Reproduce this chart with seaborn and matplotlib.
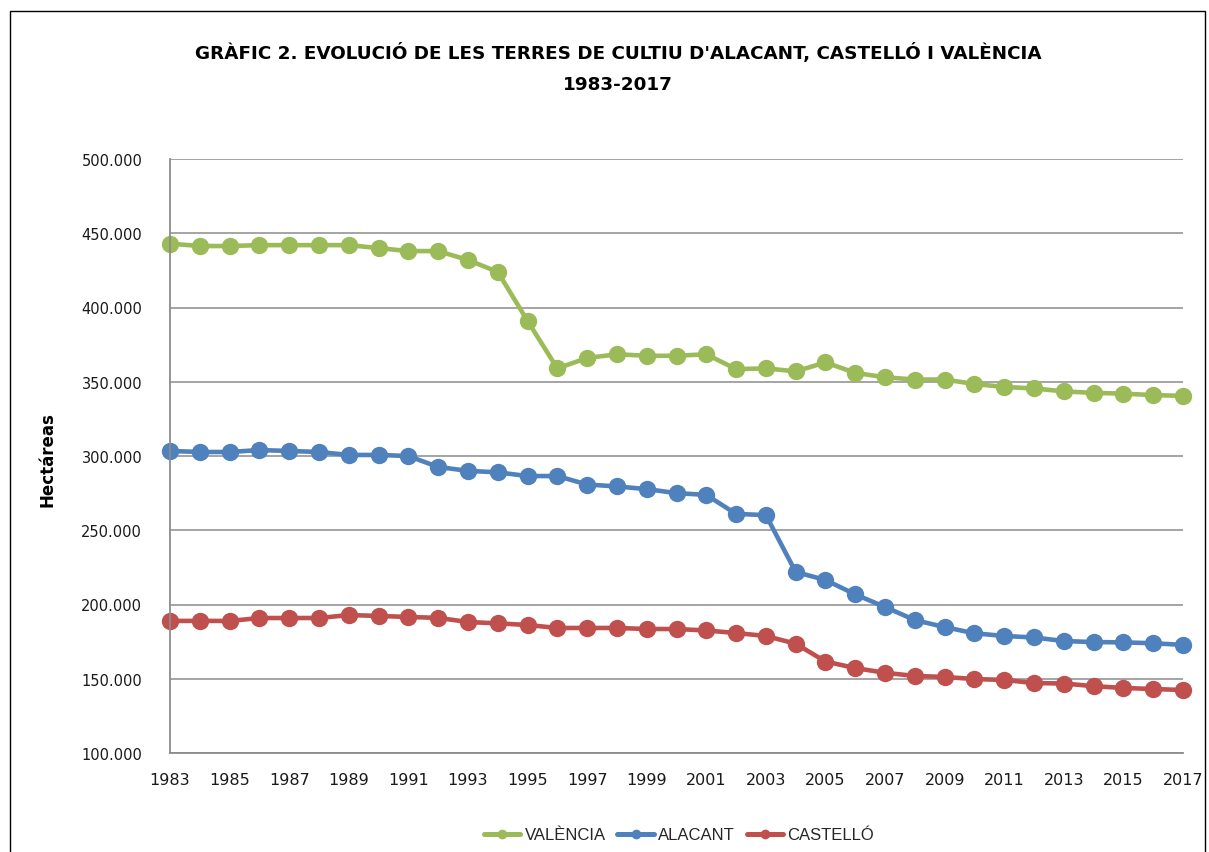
import matplotlib
matplotlib.use("Agg")
import matplotlib.pyplot as plt
import matplotlib.ticker as mticker
from matplotlib.patches import Rectangle
import seaborn as sns
import pandas as pd

years = list(range(1983, 2018))

valencia = [443000, 441400, 441400, 442000, 442000, 442000, 442000, 440000, 438000, 438000,
            432000, 424000, 391000, 359000, 366000, 368500, 367500, 367500, 368500, 358500,
            359000, 357000, 363000, 356000, 353000, 351500, 351500, 348500, 346500, 345500,
            343500, 342500, 342000, 341000, 340500]
alacant = [303400, 302700, 302700, 304000, 303400, 302700, 300700, 300700, 300000, 292600,
           290000, 289000, 286500, 286500, 280800, 279500, 277700, 275000, 273800, 261000,
           260200, 221900, 216500, 206800, 198300, 189500, 184800, 180600, 178800, 177800,
           175400, 174700, 174500, 173900, 172800]
castello = [188900, 189000, 188900, 190900, 190900, 190900, 192900, 192300, 191600, 191000,
            188200, 187300, 186200, 184200, 184200, 184200, 183500, 183500, 182500, 180800,
            178800, 173600, 161600, 157200, 154000, 151900, 151200, 149800, 149200, 147100,
            146800, 145000, 143800, 143100, 142400]

series_names = ["VALÈNCIA", "ALACANT", "CASTELLÓ"]
colors = ["#9BBB59", "#4F81BD", "#C0504D"]
y_ticks = [100000, 150000, 200000, 250000, 300000, 350000, 400000, 450000, 500000]
x_ticks = list(range(1983, 2018, 2))

title_line1 = "GRÀFIC 2. EVOLUCIÓ DE LES TERRES DE CULTIU D'ALACANT, CASTELLÓ I VALÈNCIA"
title_line2 = "1983-2017"
y_label = "Hectáreas"

df = pd.DataFrame({
    "year": years * 3,
    "value": valencia + alacant + castello,
    "serie": [series_names[0]] * len(years) + [series_names[1]] * len(years) + [series_names[2]] * len(years),
})

sns.set_theme(style="white")
plt.rcParams["font.family"] = ["DejaVu Sans"]

W, H = 1209, 853
fig = plt.figure(figsize=(W / 100, H / 100), dpi=100)
fig.patch.set_facecolor("white")
ax = fig.add_axes([170 / W, 1 - 754 / H, (1183 - 170) / W, (754 - 160) / H])

sns.lineplot(data=df, x="year", y="value", hue="serie", hue_order=series_names,
             palette=dict(zip(series_names, colors)), marker="o", markersize=12.5,
             markeredgewidth=0, linewidth=3.3, ax=ax, legend=False, clip_on=False)

ax.set_xlim(1983, 2017)
ax.set_ylim(100000, 500000)
ax.set_yticks(y_ticks)
ax.set_xticks(x_ticks)
ax.yaxis.set_major_formatter(mticker.FuncFormatter(lambda v, p: f"{int(v):,}".replace(",", ".")))
ax.grid(axis="y", color="#8C8C8C", linewidth=1.1)
ax.set_axisbelow(True)
for s in ["top", "right"]:
    ax.spines[s].set_visible(False)
for s in ["left", "bottom"]:
    ax.spines[s].set_color("#8C8C8C")
    ax.spines[s].set_linewidth(1.3)
ax.tick_params(axis="y", length=0, pad=20, labelsize=10.5, labelcolor="#1a1a1a")
ax.tick_params(axis="x", length=0, pad=14, labelsize=11.5, labelcolor="#1a1a1a")
ax.set_xlabel("")
ax.set_ylabel("")

fig.text(618 / W, 1 - 53 / H, title_line1, ha="center", va="center",
         fontsize=13.2, fontweight="bold", color="black")
fig.text(618 / W, 1 - 85 / H, title_line2, ha="center", va="center",
         fontsize=13.2, fontweight="bold", color="black")
fig.text(48 / W, 1 - 460 / H, y_label, rotation=90, ha="center", va="center",
         fontsize=12, fontweight="bold", color="black")

handles = [plt.Line2D([0], [0], color=c, linewidth=3.6, marker="o", markersize=7,
                      markeredgewidth=0) for c in colors]
fig.legend(handles, series_names, loc="center", bbox_to_anchor=(679 / W, 1 - 836 / H),
           ncol=3, frameon=False, handlelength=2.2, handletextpad=0.25, columnspacing=0.7,
           prop={"family": "Liberation Sans", "size": 12})

fig.add_artist(Rectangle((10 / W, -0.05), (1205 - 10) / W, 1 - 12 / H + 0.05,
                         transform=fig.transFigure, fill=False, edgecolor="black",
                         linewidth=1.0))

fig.savefig("out.png", dpi=100)
